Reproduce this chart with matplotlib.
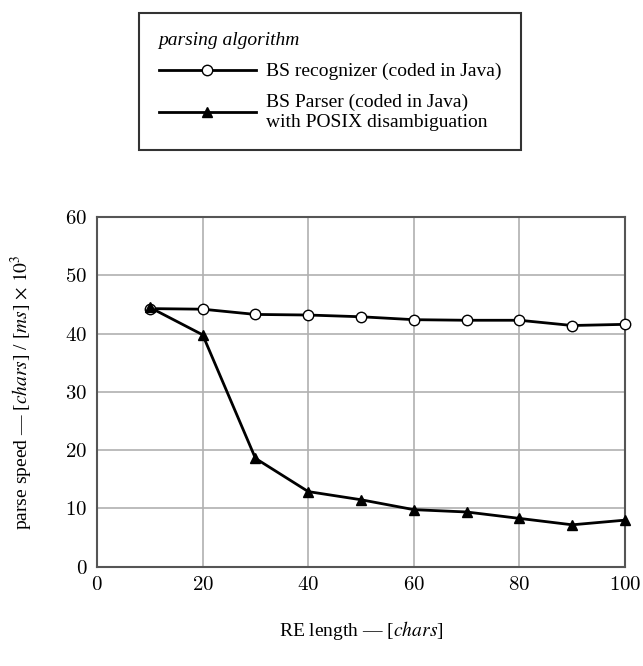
import matplotlib
matplotlib.use("Agg")
import matplotlib.pyplot as plt
from matplotlib.font_manager import FontProperties
from matplotlib.lines import Line2D

re_length = [10, 20, 30, 40, 50, 60, 70, 80, 90, 100]
recognizer = [44.3, 44.2, 43.3, 43.2, 42.9, 42.4, 42.3, 42.3, 41.4, 41.6]
parser = [44.5, 39.8, 18.6, 12.9, 11.5, 9.8, 9.4, 8.3, 7.2, 8.0]
xticks = [0, 20, 40, 60, 80, 100]
yticks = [0, 10, 20, 30, 40, 50, 60]
label_rec = "BS recognizer (coded in Java)"
label_par = "BS Parser (coded in Java)\nwith POSIX disambiguation"
legend_title = "parsing algorithm"

serif = "Liberation Serif"
fig = plt.figure(figsize=(6.43, 6.66), dpi=100)
ax = fig.add_axes([0.151, 0.149, 0.821, 0.525])

ax.plot(re_length, recognizer, color="black", lw=2, marker="o", ms=7.5,
        mfc="white", mec="black", mew=1, zorder=3, clip_on=False)
ax.plot(re_length, parser, color="black", lw=2, marker="^", ms=7.5,
        mfc="black", mec="black", zorder=3, clip_on=False)

ax.set_xlim(0, 100)
ax.set_ylim(0, 60)
ax.set_xticks(xticks)
ax.set_yticks(yticks)
ax.set_xticklabels([f"${v}$" for v in xticks])
ax.set_yticklabels([f"${v}$" for v in yticks])
for lab in ax.get_xticklabels() + ax.get_yticklabels():
    lab.set_fontproperties(FontProperties(family=serif, size=15, math_fontfamily="cm"))
ax.tick_params(length=0, pad=7)
ax.grid(True, color="#b0b0b0", lw=1.2)
ax.set_axisbelow(True)
for s in ax.spines.values():
    s.set_color("#555555")
    s.set_linewidth(1.5)

lblfp = FontProperties(family=serif, size=14, math_fontfamily="stix")
ax.set_xlabel(r"RE length — [$\mathit{chars}$]", fontproperties=lblfp, labelpad=17)
ax.set_ylabel(r"parse speed — [$\mathit{chars}$] / [$\mathit{ms}$] $\times$ $10^3$",
              fontproperties=lblfp, labelpad=22)

handles = [
    Line2D([], [], color="black", lw=2, marker="o", ms=7.5, mfc="white", mec="black", mew=1),
    Line2D([], [], color="black", lw=2, marker="^", ms=7.5, mfc="black", mec="black"),
]
leg = fig.legend(handles, [label_rec, label_par], loc="upper center",
                 bbox_to_anchor=(0.513, 0.981), borderaxespad=0, frameon=True, fancybox=False,
                 edgecolor="black", handlelength=5.0, handletextpad=0.5,
                 borderpad=1.0, labelspacing=0.7,
                 title=legend_title,
                 prop=FontProperties(family=serif, size=14),
                 title_fontproperties=FontProperties(family=serif, size=14, style="italic"),
                 alignment="left")
leg.get_frame().set_linewidth(1.5)

fig.savefig("out.png", dpi=100)
